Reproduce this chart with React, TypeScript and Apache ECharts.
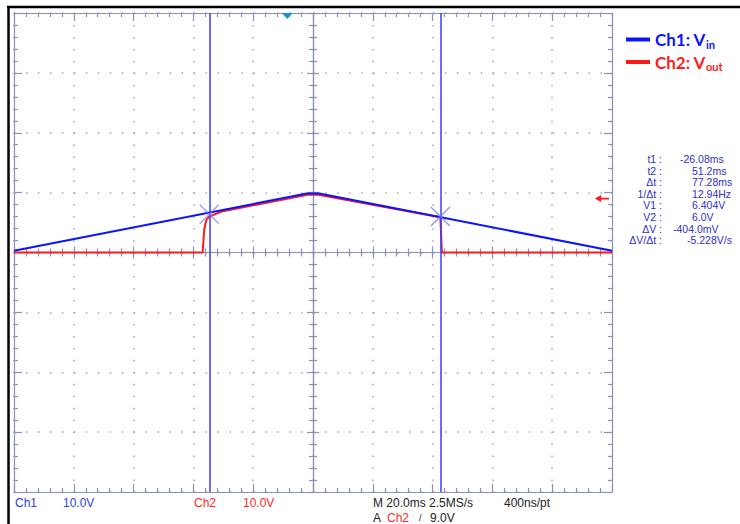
import React, { useEffect, useRef } from 'react';
import * as echarts from 'echarts';

// ---- data (time in ms, voltage in V) ----
const tMin = -91.4;
const tMax = 108.6;
const vMin = -40;
const vMax = 40;
const vinTime = [-91.4, 6.5, 10.7, 108.6];
const vinVolt = [0.3, 9.85, 9.85, 0.3];
const voutTime = [-91.4, -28.3, -27.8, -27.1, -26.1, -22.0, 6.8, 10.4, 51.2, 51.7, 108.6];
const voutVolt = [0, 0, 3.8, 5.4, 6.0, 6.85, 9.65, 9.65, 5.9, 0, 0];
const cursorTimes = [-26.08, 51.2];
const cursorVolts = [6.404, 6.0];
const triggerTime = 0;
const triggerLevel = 9.0;
const measLabels = ['t1', 't2', 'Δt', '1/Δt', 'V1', 'V2', 'ΔV', 'ΔV/Δt'];
const measValues = ['-26.08ms', '51.2ms', '77.28ms', '12.94Hz', '6.404V', '6.0V', '-404.0mV', '-5.228V/s'];

// ---- layout ----
const GRID = { left: 14, top: 13, width: 598, height: 479 };
const measValueX = [680, 692, 692, 692, 692, 692, 673, 687];
const measTop = 159;
const measStep = 11.6;

const gratColor = '#8b92b8';
const dotColor = '#a2a4b8';
const FONT = '12px "Liberation Sans", Arial, sans-serif';
const MEAS_FONT = '10.5px "Liberation Sans", Arial, sans-serif';

function gratX(position: string, offset: number, inside: boolean, split: boolean, major: number, minor: number) {
  return {
    type: 'value', min: 0, max: 10, interval: 1, position, offset,
    axisLine: { show: true, onZero: false, lineStyle: { color: gratColor, width: 1.2 } },
    axisTick: { show: true, inside, length: major, lineStyle: { color: gratColor, width: 1.2 } },
    minorTick: { show: true, splitNumber: 5, length: minor, lineStyle: { color: gratColor, width: 1.2 } },
    axisLabel: { show: false },
    splitLine: { show: split, lineStyle: { color: dotColor, width: 1.5, type: [1.5, 10.46] } },
    silent: true,
  };
}
function gratY(position: string, offset: number, inside: boolean, split: boolean, major: number, minor: number) {
  return {
    type: 'value', min: 0, max: 8, interval: 1, position, offset,
    axisLine: { show: true, onZero: false, lineStyle: { color: gratColor, width: 1.2 } },
    axisTick: { show: true, inside, length: major, lineStyle: { color: gratColor, width: 1.2 } },
    minorTick: { show: true, splitNumber: 5, length: minor, lineStyle: { color: gratColor, width: 1.2 } },
    axisLabel: { show: false },
    splitLine: { show: split, lineStyle: { color: dotColor, width: 1.5, type: [1.5, 10.47] } },
    silent: true,
  };
}

function txt(text: string, x: number, y: number, fill: string, align = 'left', font = FONT) {
  return {
    type: 'text', x, y, silent: true,
    style: { text, fill, font, align, verticalAlign: 'middle', textAlign: align, textVerticalAlign: 'middle' },
  };
}

export default function App() {
  const ref = useRef<HTMLDivElement>(null);
  useEffect(() => {
    document.body.style.margin = '0';
    const chart = echarts.init(ref.current!, null, { renderer: 'svg' });
    const halfW = GRID.width / 2;
    const halfH = GRID.height / 2;

    const graphics: any[] = [
      { type: 'line', shape: { x1: 7, y1: 7, x2: 740, y2: 7 }, style: { stroke: '#000', lineWidth: 2.5 }, silent: true },
      { type: 'line', shape: { x1: 8.5, y1: 6, x2: 8.5, y2: 524 }, style: { stroke: '#000', lineWidth: 2.5 }, silent: true },
    ];
    measLabels.forEach((l, i) => {
      graphics.push(txt(l + ' :', 662, measTop + i * measStep, '#2f2fc8', 'right', MEAS_FONT));
      graphics.push(txt(measValues[i], measValueX[i], measTop + i * measStep, '#2f2fc8', 'left', MEAS_FONT));
    });
    graphics.push(txt('Ch1', 15, 503, '#3040e0'));
    graphics.push(txt('10.0V', 63, 503, '#3040e0'));
    graphics.push(txt('Ch2', 194, 503, '#ff2a2a'));
    graphics.push(txt('10.0V', 243, 503, '#ff2a2a'));
    graphics.push(txt('M 20.0ms 2.5MS/s', 373, 503, '#222'));
    graphics.push(txt('400ns/pt', 504, 503, '#222'));
    graphics.push(txt('A', 373, 518, '#222'));
    graphics.push(txt('Ch2', 387, 518, '#ff2a2a'));
    graphics.push(txt('/', 419, 518, '#222', 'left', '9px "Liberation Sans", Arial, sans-serif'));
    graphics.push(txt(triggerLevel.toFixed(1) + 'V', 430, 518, '#222'));

    const option: any = {
      animation: false,
      backgroundColor: '#ffffff',
      grid: { ...GRID, containLabel: false },
      legend: {
        orient: 'vertical', left: 621, top: 26, itemWidth: 24, itemHeight: 4, itemGap: 4,
        icon: 'rect', selectedMode: false,
        data: ['Ch1', 'Ch2'],
        formatter: (name: string) => (name === 'Ch1' ? '{b|Ch1: V}{bs|in}' : '{r|Ch2: V}{rs|out}'),
        textStyle: {
          rich: {
            b: { color: '#0a14ff', fontSize: 17, fontWeight: 'bold', fontFamily: 'Lato', lineHeight: 20, verticalAlign: 'middle' },
            bs: { color: '#0a14ff', fontSize: 11, fontWeight: 'bold', fontFamily: 'Lato', lineHeight: 8, verticalAlign: 'bottom' },
            r: { color: '#ff1a1a', fontSize: 17, fontWeight: 'bold', fontFamily: 'Lato', lineHeight: 20, verticalAlign: 'middle' },
            rs: { color: '#ff1a1a', fontSize: 11, fontWeight: 'bold', fontFamily: 'Lato', lineHeight: 8, verticalAlign: 'bottom' },
          },
        },
      },
      xAxis: [
        { type: 'value', min: tMin, max: tMax, show: false, axisLine: { onZero: false } },
        gratX('bottom', 0, true, true, 8, 4),
        gratX('top', 0, true, false, 8, 4),
        gratX('bottom', -halfH, true, false, 6, 4),
        gratX('bottom', -halfH, false, false, 6, 4),
      ],
      yAxis: [
        { type: 'value', min: vMin, max: vMax, show: false, axisLine: { onZero: false } },
        gratY('left', 0, true, true, 8, 4),
        gratY('right', 0, true, false, 8, 4),
        gratY('left', -halfW, true, false, 6, 4),
        gratY('left', -halfW, false, false, 6, 4),
      ],
      graphic: graphics,
      series: [
        {
          name: 'Ch2', type: 'line', xAxisIndex: 0, yAxisIndex: 0, z: 4,
          data: voutTime.map((t, i) => [t, voutVolt[i]]),
          showSymbol: false, symbol: 'none', color: '#ff1a1a',
          lineStyle: { color: '#ff1a1a', width: 2 },
          markPoint: {
            silent: true, label: { show: false },
            data: [{
              coord: [tMax, triggerLevel],
              symbol: 'path://M0,4L6,0L6,3L14,3L14,5L6,5L6,8Z',
              symbolSize: [14, 7], symbolOffset: [-10, 0],
              itemStyle: { color: '#ff1a1a' },
            }],
          },
        },
        {
          name: 'Ch1', type: 'line', xAxisIndex: 0, yAxisIndex: 0, z: 5,
          data: vinTime.map((t, i) => [t, vinVolt[i]]),
          showSymbol: false, symbol: 'none', color: '#0a14ff',
          lineStyle: { color: '#0a14ff', width: 2 },
          markLine: {
            silent: true, symbol: ['none', 'none'], label: { show: false },
            lineStyle: { color: '#3b3bff', width: 1.5, type: 'solid' },
            data: cursorTimes.map((t) => ({ xAxis: t })),
          },
          markPoint: {
            silent: true, label: { show: false },
            data: [{
              coord: [triggerTime, vMax], symbol: 'triangle', symbolRotate: 180,
              symbolSize: [11, 6], symbolOffset: [0, 3],
              itemStyle: { color: '#1e90d8' },
            }],
          },
        },
        {
          name: 'cursors', type: 'scatter', xAxisIndex: 0, yAxisIndex: 0, z: 6,
          data: cursorTimes.map((t, i) => [t, cursorVolts[i]]),
          symbol: 'path://M0,0L20,20M20,0L0,20', symbolSize: 19,
          itemStyle: { color: 'none', borderColor: '#7676ff', borderWidth: 1.3 },
          silent: true,
        },
      ],
    };
    chart.setOption(option);
    return () => chart.dispose();
  }, []);
  return <div ref={ref} style={{ width: 740, height: 524, background: '#fff' }} />;
}
